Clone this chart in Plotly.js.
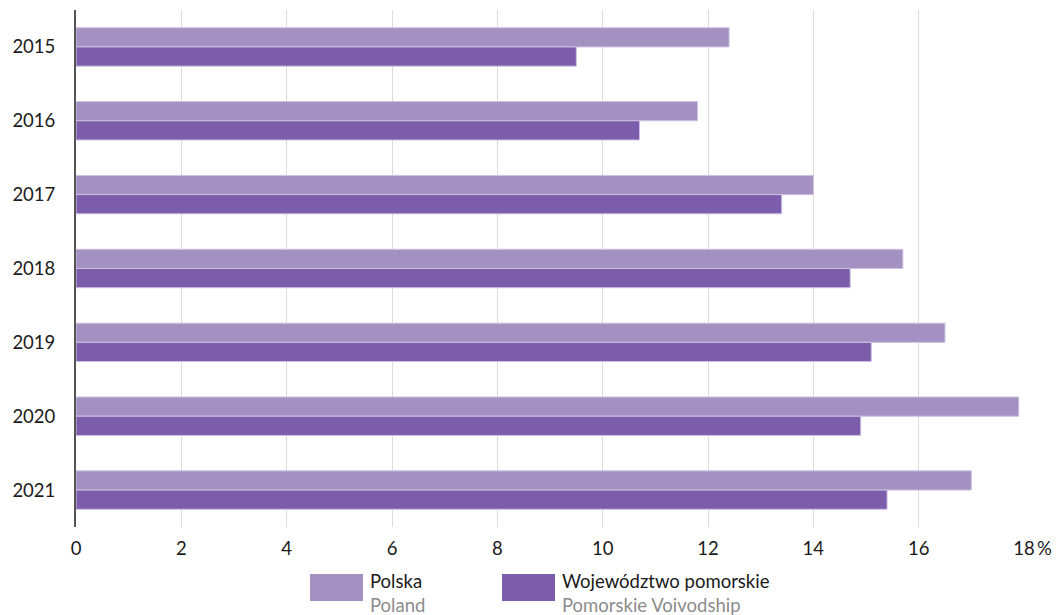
<!DOCTYPE html>
<html>
<head>
<meta charset="utf-8">
<script src="https://cdn.plot.ly/plotly-3.0.1.min.js"></script>
<style>html,body{margin:0;padding:0;background:#fff;}#chart{width:1062px;height:615px;}</style>
</head>
<body>
<div id="chart"></div>
<script>
const years = ['2015','2016','2017','2018','2019','2020','2021'];
const polska = [12.4, 11.8, 14.0, 15.7, 16.5, 17.9, 17.0];
const pomorskie = [9.5, 10.7, 13.4, 14.7, 15.1, 14.9, 15.4];
const xTickVals = [0,2,4,6,8,10,12,14,16,18];
const xTickText = ['0','2','4','6','8','10','12','14','16',
  '<span style="color:rgba(0,0,0,0)">%\u2009</span>18\u2009%'];
const legendNames = ['Polska','Województwo pomorskie'];
const legendNamesEn = ['Poland','Pomorskie Voivodship'];

const colPolska = '#a391c2';
const colPom = '#7b5dab';
const font = 'Lato, "Open Sans", sans-serif';

const W = 1062, H = 615;
const mL = 76, mR = 38, mT = 10, mB = 88;
const pw = W - mL - mR, ph = H - mT - mB;
const px = x => (x - mL) / pw;
const py = y => (H - mB - y) / ph;

const traces = [
  {type:'bar', orientation:'h', y:years, x:polska, name:legendNames[0],
   marker:{color:colPolska, line:{color:'#cdc2e2', width:1}}, hoverinfo:'x+y'},
  {type:'bar', orientation:'h', y:years, x:pomorskie, name:legendNames[1],
   marker:{color:colPom, line:{color:'#cdc2e2', width:1}}, hoverinfo:'x+y'}
];

const swatches = [{x0:310, x1:363}, {x0:502, x1:555}];
const shapes = swatches.map((s,i)=>({
  type:'rect', xref:'paper', yref:'paper',
  x0:px(s.x0), x1:px(s.x1), y0:py(601), y1:py(574),
  fillcolor: i===0?colPolska:colPom, line:{width:0}
}));
const annotations = swatches.map((s,i)=>({
  xref:'paper', yref:'paper', x:px(s.x1+5), y:py(568), xanchor:'left', yanchor:'top',
  align:'left', showarrow:false,
  text: legendNames[i] + '<br><span style="color:#8c8c8c">' + legendNamesEn[i] + '</span>',
  font:{family:font, size:18.5, color:'#1a1a1a'}
}));

const layout = {
  width:W, height:H,
  margin:{l:mL, r:mR, t:mT, b:mB, pad:0},
  paper_bgcolor:'#fff', plot_bgcolor:'#fff',
  barmode:'group', bargap:0.48, bargroupgap:0,
  showlegend:false,
  font:{family:font, size:18.5, color:'#1a1a1a'},
  xaxis:{range:[0,18], tickvals:xTickVals, ticktext:xTickText,
    showgrid:true, gridcolor:'#dcdcdc', gridwidth:1, zeroline:false,
    showline:false, ticks:'outside', ticklen:5, tickcolor:'rgba(0,0,0,0)',
    tickfont:{family:font, size:18.5, color:'#1a1a1a'}, fixedrange:true},
  yaxis:{type:'category', autorange:'reversed', showgrid:false, zeroline:false,
    showline:true, linecolor:'#555555', linewidth:2,
    ticks:'outside', ticklen:15, tickcolor:'rgba(0,0,0,0)',
    tickfont:{family:font, size:18.5, color:'#1a1a1a'}, fixedrange:true},
  shapes:shapes, annotations:annotations
};

Plotly.newPlot('chart', traces, layout, {displayModeBar:false, staticPlot:true});
</script>
</body>
</html>
